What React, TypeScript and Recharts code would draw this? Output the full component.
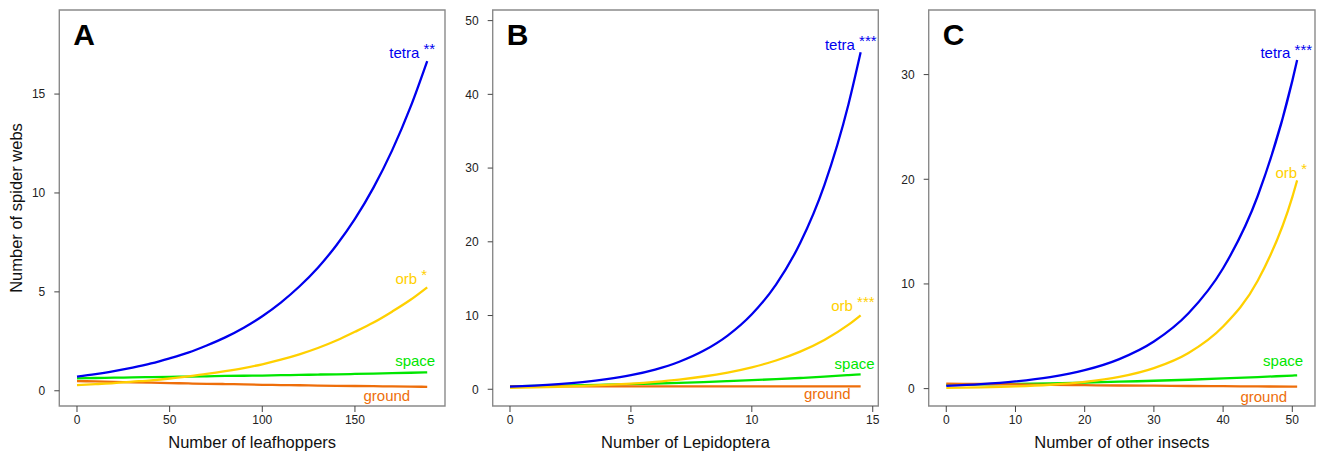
import React from 'react';
import { LineChart, Line, XAxis, YAxis, ReferenceArea, LabelList, Label } from 'recharts';

// Panel A: leafhoppers
const xA = [0, 10, 20, 30, 40, 50, 60, 70, 80, 90, 100, 110, 120, 130, 140, 150, 160, 170, 180, 189];
const tetraA = [0.71, 0.84, 0.99, 1.17, 1.38, 1.64, 1.93, 2.29, 2.7, 3.19, 3.77, 4.46, 5.27, 6.22, 7.36, 8.69, 10.27, 12.14, 14.35, 16.67];
const orbA = [0.29, 0.34, 0.39, 0.46, 0.53, 0.62, 0.73, 0.85, 0.99, 1.15, 1.34, 1.57, 1.84, 2.16, 2.54, 2.98, 3.45, 4.0, 4.6, 5.23];
const spaceA = [0.63, 0.645, 0.66, 0.675, 0.69, 0.7, 0.72, 0.73, 0.75, 0.76, 0.77, 0.79, 0.8, 0.82, 0.83, 0.85, 0.87, 0.89, 0.91, 0.93];
const groundA = [0.49, 0.47, 0.45, 0.43, 0.41, 0.39, 0.37, 0.35, 0.34, 0.32, 0.3, 0.29, 0.28, 0.26, 0.25, 0.24, 0.23, 0.22, 0.21, 0.2];

// Panel B: Lepidoptera
const xB = [0, 1, 2, 3, 4, 5, 6, 7, 8, 9, 10, 11, 12, 13, 14, 14.5];
const tetraB = [0.36, 0.5, 0.7, 0.98, 1.37, 1.91, 2.67, 3.73, 5.21, 7.28, 10.17, 14.2, 19.84, 27.7, 38.7, 45.7];
const orbB = [0.2, 0.26, 0.34, 0.45, 0.59, 0.77, 1.01, 1.32, 1.73, 2.27, 2.98, 3.9, 5.11, 6.69, 8.76, 10.03];
const spaceB = [0.4, 0.45, 0.5, 0.56, 0.63, 0.7, 0.78, 0.88, 0.98, 1.1, 1.23, 1.37, 1.53, 1.71, 1.92, 2.03];
const groundB = [0.4, 0.4, 0.4, 0.4, 0.39, 0.39, 0.39, 0.39, 0.39, 0.39, 0.38, 0.38, 0.38, 0.38, 0.38, 0.38];

// Panel C: other insects
const xC = [0, 5, 10, 15, 20, 25, 30, 35, 40, 45, 50, 50.7];
const tetraC = [0.27, 0.43, 0.69, 1.1, 1.76, 2.82, 4.5, 7.2, 11.5, 18.4, 29.4, 31.4];
const orbC = [0.07, 0.12, 0.21, 0.37, 0.64, 1.12, 1.96, 3.41, 5.94, 10.3, 18.3, 19.9];
const spaceC = [0.35, 0.4, 0.45, 0.51, 0.58, 0.66, 0.75, 0.85, 0.97, 1.1, 1.25, 1.27];
const groundC = [0.48, 0.44, 0.4, 0.36, 0.33, 0.3, 0.28, 0.25, 0.23, 0.21, 0.19, 0.19];

const ticksA = [0, 50, 100, 150];
const ticksB = [0, 5, 10, 15];
const ticksC = [0, 10, 20, 30, 40, 50];
const yTicksA = [0, 5, 10, 15];
const yTicksB = [0, 10, 20, 30, 40, 50];
const yTicksC = [0, 10, 20, 30];

const FONT = '"Liberation Sans", Arial, Helvetica, sans-serif';
const COLORS: Record<string, string> = {
  tetra: '#0000EE',
  orb: '#FFD000',
  space: '#00E600',
  ground: '#EE6E0A',
};
const ORDER = ['space', 'ground', 'orb', 'tetra'];

const makeRows = (xs: number[], t: number[], o: number[], s: number[], g: number[]) =>
  xs.map((x, i) => ({ x, tetra: t[i], orb: o[i], space: s[i], ground: g[i] }));

interface EndLabel {
  stars: string;
  dx: number;
  dy: number;
}

interface PanelProps {
  left: number;
  width: number;
  yAxisWidth: number;
  right: number;
  rows: any[];
  xDomain: [number, number];
  yDomain: [number, number];
  xTicks: number[];
  yTicks: number[];
  letter: string;
  xTitle: string;
  yTitle?: string;
  labels: Record<string, EndLabel>;
}

const Panel: React.FC<PanelProps> = (p) => {
  const last = p.rows.length - 1;
  const endLabel = (name: string) => (props: any) => {
    const { x, y, index } = props;
    if (index !== last) return null;
    const cfg = p.labels[name];
    return (
      <text
        x={x + cfg.dx}
        y={y + cfg.dy}
        textAnchor="end"
        dominantBaseline="central"
        fill={COLORS[name]}
        fontSize={15}
        fontFamily={FONT}
      >
        {name}
        {cfg.stars && (
          <tspan fontSize={15} dy={-4}>
            {' ' + cfg.stars}
          </tspan>
        )}
      </text>
    );
  };

  return (
    <div style={{ position: 'absolute', left: p.left, top: 0 }}>
      <LineChart
        width={p.width}
        height={453}
        data={p.rows}
        margin={{ top: 10, right: p.right, left: 0, bottom: 0 }}
      >
        <XAxis
          dataKey="x"
          type="number"
          domain={p.xDomain}
          ticks={p.xTicks}
          allowDataOverflow
          height={47}
          axisLine={false}
          tickSize={6}
          tickMargin={3}
          tickLine={{ stroke: '#444' }}
          tick={{ fill: '#222', fontSize: 12, fontFamily: FONT }}
          interval={0}
        >
          <Label
            content={(lp: any) => {
              const vb = lp.viewBox;
              return (
                <text
                  x={vb.x + vb.width / 2}
                  y={442}
                  textAnchor="middle"
                  dominantBaseline="central"
                  fontSize={16.5}
                  fontFamily={FONT}
                  fill="#111"
                >
                  {p.xTitle}
                </text>
              );
            }}
          />
        </XAxis>
        <YAxis
          type="number"
          domain={p.yDomain}
          ticks={p.yTicks}
          allowDataOverflow
          width={p.yAxisWidth}
          axisLine={false}
          tickSize={5}
          tickMargin={9}
          tickLine={{ stroke: '#444' }}
          tick={{ fill: '#222', fontSize: 12, fontFamily: FONT }}
          interval={0}
        >
          {p.yTitle && (
            <Label
              content={() => (
                <text
                  x={16}
                  y={208}
                  transform="rotate(-90 16 208)"
                  textAnchor="middle"
                  dominantBaseline="central"
                  fontSize={16.5}
                  fontFamily={FONT}
                  fill="#111"
                >
                  {p.yTitle}
                </text>
              )}
            />
          )}
        </YAxis>
        <ReferenceArea
          x1={p.xDomain[0]}
          x2={p.xDomain[1]}
          y1={p.yDomain[0]}
          y2={p.yDomain[1]}
          fill="none"
          stroke="#8a8a8a"
          strokeWidth={1.4}
          ifOverflow="visible"
        >
          <Label
            content={(lp: any) => {
              const vb = lp.viewBox;
              return (
                <text
                  x={vb.x + 14}
                  y={vb.y + 35}
                  fontSize={30}
                  fontWeight="bold"
                  fontFamily={FONT}
                  fill="#000"
                >
                  {p.letter}
                </text>
              );
            }}
          />
        </ReferenceArea>
        {ORDER.map((name) => (
          <Line
            key={name}
            dataKey={name}
            type="monotone"
            stroke={COLORS[name]}
            strokeWidth={2.3}
            dot={false}
            activeDot={false}
            isAnimationActive={false}
          >
            <LabelList dataKey={name} content={endLabel(name)} />
          </Line>
        ))}
      </LineChart>
    </div>
  );
};

export default function App() {
  return (
    <div style={{ position: 'absolute', left: 0, top: 0, width: 1317, height: 453, background: '#fff' }}>
      <Panel
        left={0}
        width={450}
        yAxisWidth={59.3}
        right={5}
        rows={makeRows(xA, tetraA, orbA, spaceA, groundA)}
        xDomain={[-9.55, 198.6]}
        yDomain={[-0.77, 19.25]}
        xTicks={ticksA}
        yTicks={yTicksA}
        letter="A"
        xTitle="Number of leafhoppers"
        yTitle="Number of spider webs"
        labels={{
          tetra: { stars: '**', dx: 8, dy: -9 },
          orb: { stars: '*', dx: 0, dy: -9 },
          space: { stars: '', dx: 8, dy: -12 },
          ground: { stars: '', dx: -17, dy: 9 },
        }}
      />
      <Panel
        left={440}
        width={445}
        yAxisWidth={52.7}
        right={6.7}
        rows={makeRows(xB, tetraB, orbB, spaceB, groundB)}
        xDomain={[-0.715, 15.23]}
        yDomain={[-2.27, 51.44]}
        xTicks={ticksB}
        yTicks={yTicksB}
        letter="B"
        xTitle="Number of Lepidoptera"
        labels={{
          tetra: { stars: '***', dx: 16, dy: -8 },
          orb: { stars: '***', dx: 14, dy: -10 },
          space: { stars: '', dx: 14, dy: -11 },
          ground: { stars: '', dx: -10, dy: 7 },
        }}
      />
      <Panel
        left={880}
        width={437}
        yAxisWidth={48.7}
        right={2}
        rows={makeRows(xC, tetraC, orbC, spaceC, groundC)}
        xDomain={[-2.54, 53.28]}
        yDomain={[-1.66, 36.17]}
        xTicks={ticksC}
        yTicks={yTicksC}
        letter="C"
        xTitle="Number of other insects"
        labels={{
          tetra: { stars: '***', dx: 15, dy: -7 },
          orb: { stars: '*', dx: 10, dy: -8 },
          space: { stars: '', dx: 6, dy: -15 },
          ground: { stars: '', dx: -10, dy: 10 },
        }}
      />
    </div>
  );
}
